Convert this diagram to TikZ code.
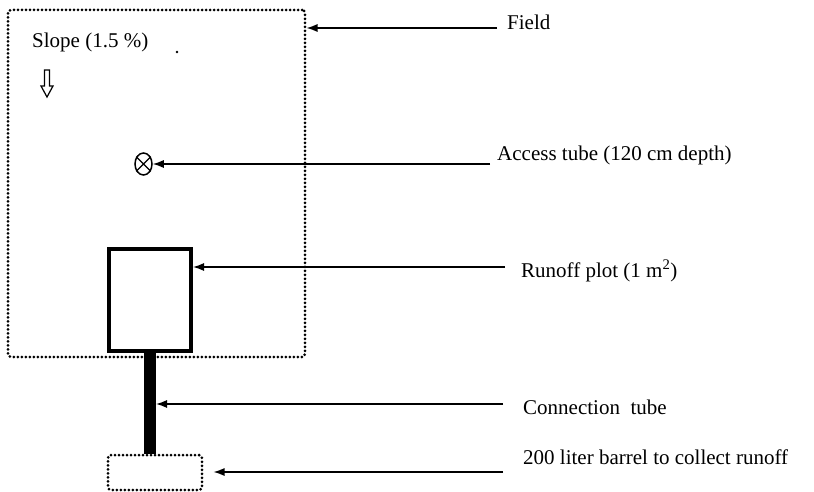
\documentclass[tikz,border=0pt]{standalone}
\usepackage{fontspec}
\setmainfont{Liberation Serif}
\usetikzlibrary{arrows.meta,shapes.geometric}
\begin{document}
\begin{tikzpicture}[x=1pt,y=-1pt,
  dotbox/.style={draw, line width=3pt, dash pattern=on 0pt off 4pt, line cap=round, rounded corners=3pt, inner sep=0pt},
  arr/.style={line width=1.4pt, -{Latex[length=11pt,width=8pt]}},
  lbl/.style={anchor=west, inner sep=0pt, font=\fontsize{21}{25}\selectfont},
  plotbox/.style={draw, line width=4pt, inner sep=0pt, minimum width=82pt, minimum height=102pt},
  tubesym/.style={draw, ellipse, line width=1.5pt, inner sep=0pt, minimum width=17pt, minimum height=22pt}]
\useasboundingbox (0,0) rectangle (814,492);
% field
\node[dotbox, minimum width=297pt, minimum height=347pt] (field) at (156.5,183.5) {};
\node[lbl] (slope) at (32,42) {Slope (1.5 \%)};
\fill (177,52) circle (1.4pt);
\draw[line width=1.2pt] (44.5,70) -- (49.5,70) -- (49.5,86) -- (53,86) -- (47,97) -- (41,86) -- (44.5,86) -- cycle;
% access tube
\node[tubesym] (tube) at (143.5,164) {};
\draw[line width=1.4pt] (tube.45) -- (tube.225) (tube.135) -- (tube.315);
% runoff plot
\node[plotbox] (plot) at (150,300) {};
% barrel
\node[dotbox, minimum width=94pt, minimum height=35pt] (barrel) at (155,472.5) {};
% connection tube
\draw[line width=12pt] (plot.south) -- (plot.south |- barrel.north);
% labels
\node[lbl] (lfield) at (507,22) {Field};
\node[lbl] (ltube) at (497,155) {Access tube (120 cm depth)};
\node[lbl] (lplot) at (521,271) {Runoff plot (1 m\textsuperscript{2})};
\node[lbl] (lconn) at (523,407) {Connection\ \ tube};
\node[lbl] (lbarrel) at (523,457) {200 liter barrel to collect runoff};
% arrows
\coordinate (sfield) at (497,28);
\coordinate (stube) at (490,164);
\coordinate (splot) at (505,267);
\coordinate (sconn) at (503,404);
\coordinate (sbarrel) at (503,472);
\draw[arr] (sfield) -- (sfield -| field.east);
\draw[arr] (stube) -- (tube.east);
\draw[arr] (splot) -- (splot -| plot.east);
\draw[arr] (sconn) -- ([xshift=6pt]sconn -| plot.south);
\draw[arr, shorten >=10pt] (sbarrel) -- (sbarrel -| barrel.east);
\end{tikzpicture}
\end{document}
